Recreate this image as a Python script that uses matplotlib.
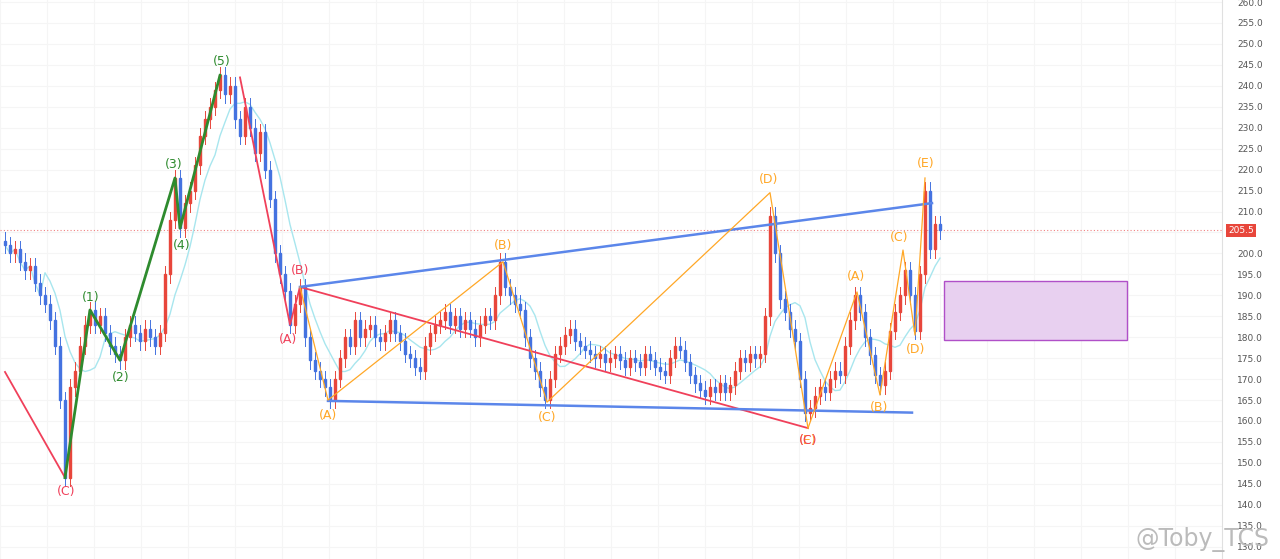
import matplotlib
matplotlib.use("Agg")
import matplotlib.pyplot as plt
import numpy as np
from matplotlib.patches import Rectangle

closes = [202,200,201,198,196,197,193,190,188,184,178,165,146.5,
          168,172,178,183,186.5,
          183,185,181,178,176,174.5,
          180,183,181,179,182,180,178,181,195,208,218,
          206,212,215,221,228,232,235,239,242.5,
          238,240,232,228,235,230,224,229,220,213,
          200,195,191,183,188,192,
          180,174.5,172,170,168,165,
          170,175,180,178,184,
          180,182,183,180,179,
          181,184,181,179,
          176,175,173,172,
          178,181,183,184,
          186,183,185,182,184,182,
          180,183,185,184,190,198,
          192,190,188,186.5,
          180,175,172,168,165,
          170,176,178,180.5,
          182,179,178,177,176,
          175,176,174,175,176,174.5,
          173,175,174,173,176,174.5,
          173,172,171,
          175,178,177,
          174,171,169,167.5,
          166,168,167,169,167,168.5,
          172,175,174,176,175,176,
          185,209,200,189,
          186,182,179,170,162,
          163,166,168,167,170,
          172,171,178,184,190,
          186,180,175.7,171,168.5,
          172,181.5,186,190,196,
          190,181.5,195,215,
          201,207,205.5]

green_x = [12,17,23,34,35,43]; green_y = [146.5,186.5,174.5,218,206,242.5]
red1_x = [0,12]; red1_y = [171.7,146.5]
red2_x = [47,57,59,160.6]; red2_y = [242,183,192,158.3]
blue_up_x = [59,185.4]; blue_up_y = [192,212]
blue_lo_x = [64.6,181.4]; blue_lo_y = [164.8,162]
or1_x = [59,64.6,99.6,108.4,153,160.6]; or1_y = [192,165,198,164.5,214.5,158.3]
or2_x = [160.6,170.4,175,179.6,182,184]; or2_y = [158.3,190.8,166.2,200.8,180.5,218]
last_price = 205.5

W, H = 1280, 559
fig = plt.figure(figsize=(W/100, H/100), dpi=100)
ax = fig.add_axes([0, 0, 1222/1280, 1])
def py(p): return 260 - (p - 2) / 4.19
ax.set_xlim(-1, 243.4)
ax.set_ylim(py(559), py(0))

for t in np.arange(130, 261, 5):
    ax.axhline(t, color='#f5f5f5', lw=0.8, zorder=0)
for t in np.arange(-1, 243, 9.4):
    ax.axvline(t, color='#f5f5f5', lw=0.8, zorder=0)

c = np.array(closes, float)
o = np.concatenate([[c[0]+1], c[:-1]])
x = np.arange(len(c))
for i in range(len(c)):
    col = '#e8463b' if c[i] >= o[i] else '#4472e0'
    hi = max(o[i], c[i]) + 2.0; lo = min(o[i], c[i]) - 2.0
    ax.plot([x[i], x[i]], [lo, hi], color=col, lw=0.7, zorder=2)
    ax.add_patch(Rectangle((x[i]-0.25, min(o[i], c[i])), 0.5, max(abs(c[i]-o[i]), 0.3), color=col, zorder=3))
ma = np.convolve(c, np.ones(8)/8, mode='full')[:len(c)]
ma[:8] = c[:8]
ax.plot(x, ma, color='#a8e6ee', lw=1, zorder=1.5)

ax.plot(red1_x, red1_y, color='#f0405a', lw=1.3, zorder=4)
ax.plot(red2_x, red2_y, color='#f0405a', lw=1.3, zorder=4)
ax.plot(green_x, green_y, color='#2e8b2e', lw=2, zorder=4)
ax.plot(blue_up_x, blue_up_y, color='#5b86ea', lw=1.8, zorder=4)
ax.plot(blue_lo_x, blue_lo_y, color='#5b86ea', lw=1.8, zorder=4)
ax.plot(or1_x, or1_y, color='#ffa726', lw=0.9, zorder=4)
ax.plot(or2_x, or2_y, color='#ffa726', lw=0.9, zorder=4)

ax.axhline(last_price, color='#f08080', lw=0.8, ls=(0, (1, 2)), zorder=1)
ax.add_patch(Rectangle((187.8, 179.3), 36.6, 14.1, facecolor='#e8d0f0', edgecolor='#b050c8', lw=1, zorder=1))

def lab(px, pyx, s, col):
    ax.text((px-5)/5, py(pyx), s, color=col, fontsize=9, ha='center', va='center', zorder=5)
R, G, O = '#f0405a', '#2e8b2e', '#ffa726'
lab(66, 492, '(C)', R); lab(91, 297, '(1)', G); lab(121, 378, '(2)', G)
lab(174, 165, '(3)', G); lab(182, 246, '(4)', G); lab(222, 62, '(5)', G)
lab(288, 339, '(A)', R); lab(300, 271, '(B)', R)
lab(328, 415, '(A)', O); lab(503, 245, '(B)', O); lab(547, 418, '(C)', O)
lab(769, 180, '(D)', O); lab(926, 163, '(E)', O); lab(808, 441, '(E)', O); lab(808, 441, '(C)', R)
lab(856, 277, '(A)', O); lab(879, 407, '(B)', O); lab(899, 237, '(C)', O); lab(916, 349, '(D)', O)

ax.yaxis.tick_right()
ticks = [t for t in np.arange(130, 261, 5) if t != 205]
ax.set_yticks(ticks)
ax.set_yticklabels([f'{t:.1f}' for t in ticks], fontsize=6.5, color='#555555')
ax.tick_params(axis='y', length=0, pad=11)
ax.set_xticks([])
for s in ['top', 'left', 'bottom']:
    ax.spines[s].set_visible(False)
ax.spines['right'].set_color('#e0e0e0')
ax.text(1.0 + 6/1222, last_price, f'{last_price:.1f}', transform=ax.get_yaxis_transform(), fontsize=6.5,
        color='white', ha='left', va='center',
        bbox=dict(boxstyle='square,pad=0.25', fc='#e8463b', ec='none'), zorder=6)
fig.text(0.992, 0.035, '@Toby_TCS', fontsize=17, color='#bbbbbb', ha='right', va='center')
fig.savefig('out.png', dpi=100)
